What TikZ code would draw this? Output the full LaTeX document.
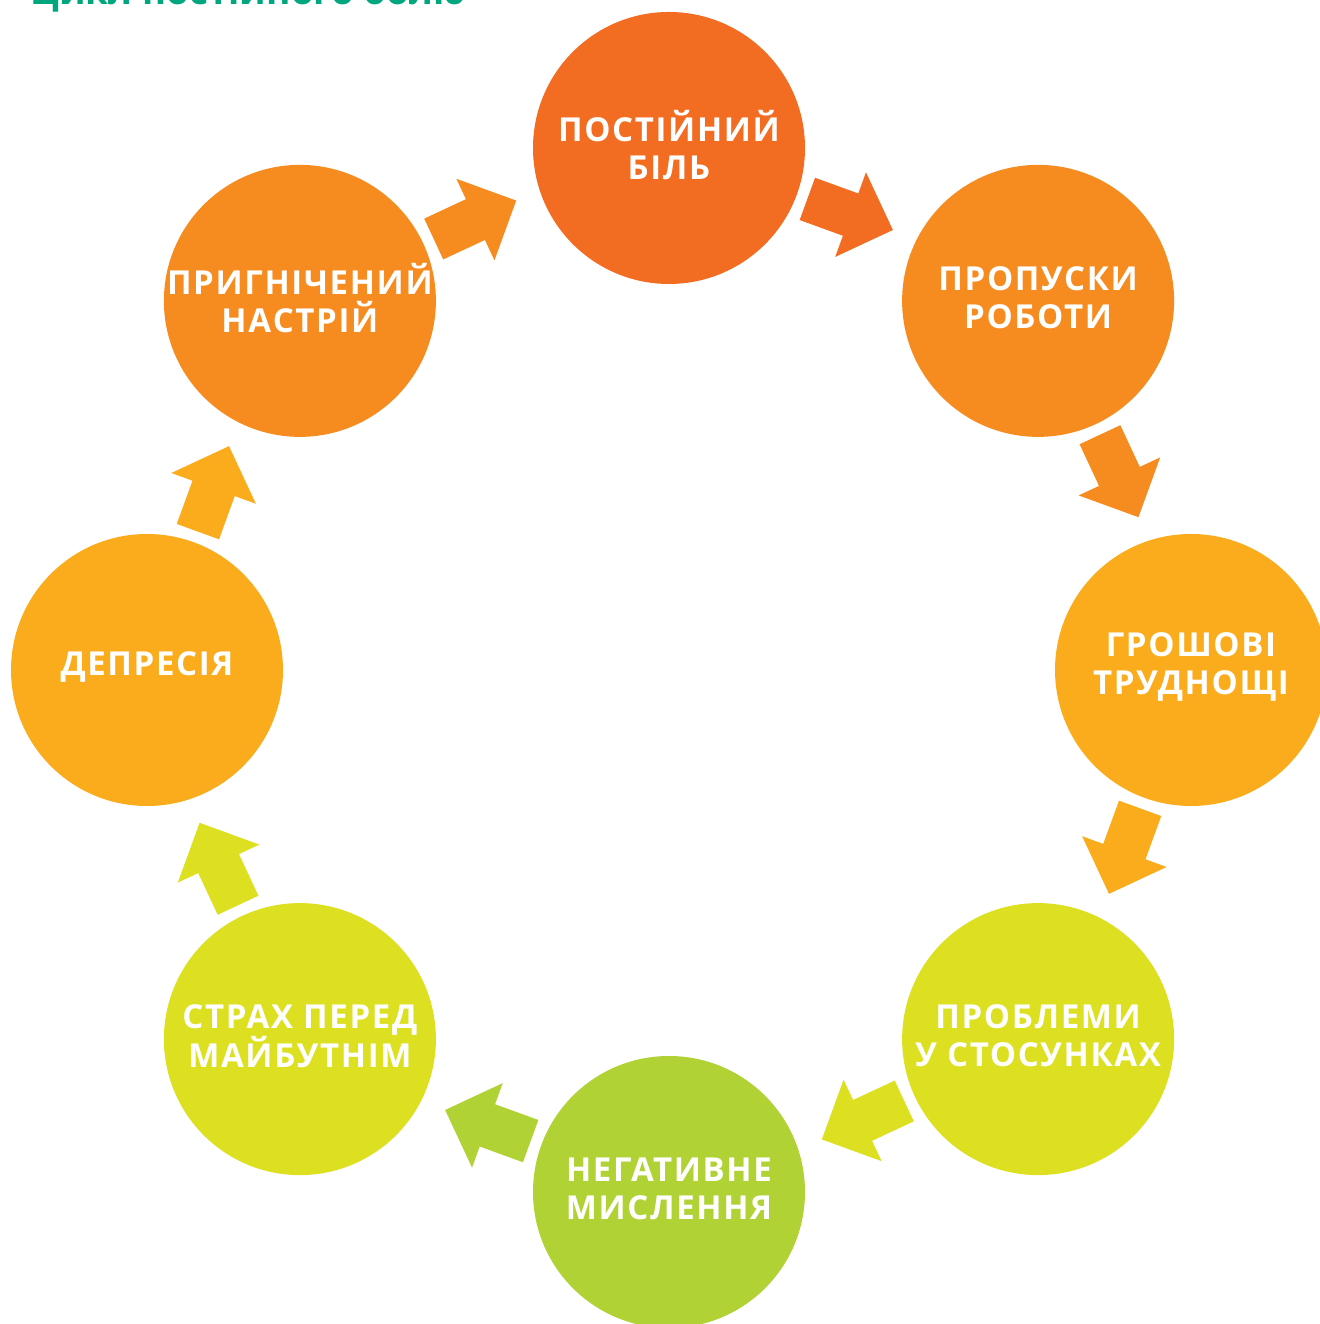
\documentclass[tikz,border=0pt]{standalone}
\usepackage{fontspec}
\usetikzlibrary{calc}
\setmainfont{Open Sans}
\newfontfamily\stagefont{Open Sans}[LetterSpace=5]
\definecolor{painred}{HTML}{F26C21}
\definecolor{warmorange}{HTML}{F68B1F}
\definecolor{amber}{HTML}{FAAC1C}
\definecolor{lime}{HTML}{DCE021}
\definecolor{leaf}{HTML}{B0D235}
\definecolor{titlegreen}{HTML}{00A77E}
\begin{document}
\begin{tikzpicture}[x=1pt,y=1pt,
  stage/.style={circle, fill=#1, minimum size=272pt, inner sep=0pt},
  stagetext/.style={text=white, align=center, inner sep=0pt,
    font=\stagefont\bfseries\fontsize{33}{38}\selectfont},
  blockarrow/.style={fill=#1}]
\useasboundingbox (0,0) rectangle (1319,1324);
\coordinate (hub) at (669,654);

% heading, mostly above the page edge
\node[anchor=base west, inner sep=0pt, text=titlegreen,
  font=\bfseries\fontsize{37}{44}\selectfont] (title) at (30,1319) {Цикл постійного болю};

% the eight stages of the cycle
\foreach \name/\ang/\col in {pain/90/painred, work/45/warmorange, money/0/amber,
    relate/-45/lime, negative/-90/leaf, fear/-135/lime, depr/180/amber, mood/135/warmorange}
  \node[stage=\col] (\name) at ($(hub)+(\ang:522)$) {};

% block arrows between neighbouring stages, clockwise
\foreach \ang/\col in {67.5/painred, 22.5/warmorange, -22.5/amber, -67.5/lime,
    -112.5/leaf, -157.5/lime, 157.5/amber, 112.5/warmorange}
  \fill[blockarrow=\col, shift={($(hub)+(\ang:490.5)$)}, rotate=\ang-87.5]
    (-52.5,-22.5) -- (-6.5,-22.5) -- (-6.5,-45) -- (38.5,0) -- (-6.5,45)
    -- (-6.5,22.5) -- (-52.5,22.5) -- cycle;

% stage labels
\node[stagetext] (pain-l) at ([yshift=3pt]pain.center) {ПОСТІЙНИЙ\\БІЛЬ};
\node[stagetext] (work-l) at ([yshift=3pt]work.center) {ПРОПУСКИ\\РОБОТИ};
\node[stagetext] (money-l) at ([yshift=3pt]money.center) {ГРОШОВІ\\ТРУДНОЩІ};
\node[stagetext] (relate-l) at ([yshift=3pt]relate.center) {ПРОБЛЕМИ\\У СТОСУНКАХ};
\node[stagetext] (negative-l) at ([yshift=3pt]negative.center) {НЕГАТИВНЕ\\МИСЛЕННЯ};
\node[stagetext] (fear-l) at ([yshift=3pt]fear.center) {СТРАХ ПЕРЕД\\МАЙБУТНІМ};
\node[stagetext] (depr-l) at ([yshift=3pt]depr.center) {ДЕПРЕСІЯ};
\node[stagetext] (mood-l) at ([yshift=3pt]mood.center) {ПРИГНІЧЕНИЙ\\НАСТРІЙ};
\end{tikzpicture}
\end{document}
